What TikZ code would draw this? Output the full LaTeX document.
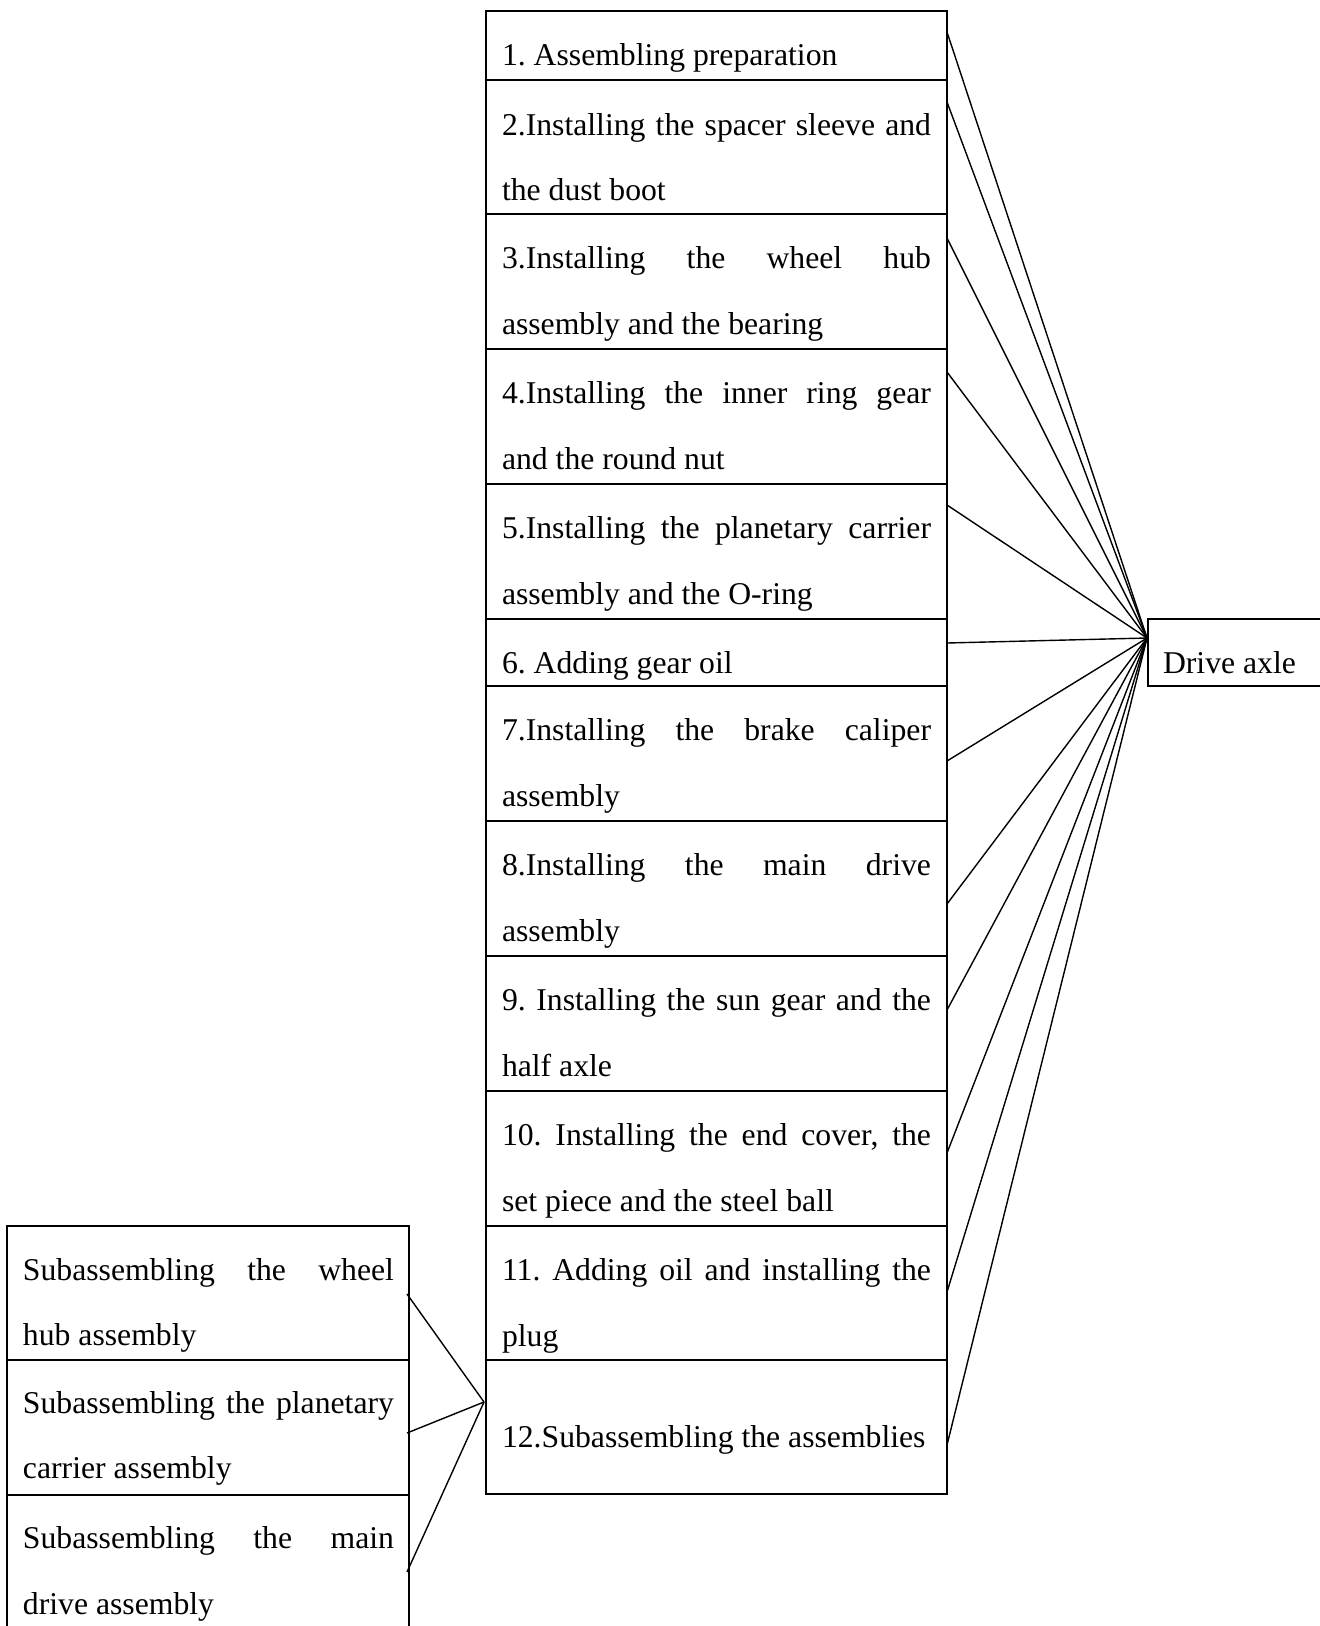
\documentclass[tikz,border=0pt]{standalone}
\usepackage{fontspec}
\setmainfont{Liberation Serif}
\newcommand{\jline}[1]{\makebox[429pt][s]{#1}}
\newcommand{\jlineL}[1]{\makebox[371pt][s]{#1}}
\begin{document}
\frenchspacing
\begin{tikzpicture}[x=1pt,y=-1pt,
  box/.style={draw, line width=2pt, rectangle, inner sep=0pt, outer sep=0pt, anchor=north west},
  txt/.style={inner sep=0pt, outer sep=0pt, anchor=base west, font=\fontsize{31.7}{38}\selectfont},
  link/.style={line width=1.4pt}]
\useasboundingbox (0,0) rectangle (1320,1626);

% main column rows
\node[box, minimum width=461pt, minimum height=69pt]  (r1)  at (486,11)   {};
\node[box, minimum width=461pt, minimum height=134pt] (r2)  at (486,80)   {};
\node[box, minimum width=461pt, minimum height=135pt] (r3)  at (486,214)  {};
\node[box, minimum width=461pt, minimum height=135pt] (r4)  at (486,349)  {};
\node[box, minimum width=461pt, minimum height=135pt] (r5)  at (486,484)  {};
\node[box, minimum width=461pt, minimum height=67pt]  (r6)  at (486,619)  {};
\node[box, minimum width=461pt, minimum height=135pt] (r7)  at (486,686)  {};
\node[box, minimum width=461pt, minimum height=135pt] (r8)  at (486,821)  {};
\node[box, minimum width=461pt, minimum height=135pt] (r9)  at (486,956)  {};
\node[box, minimum width=461pt, minimum height=135pt] (r10) at (486,1091) {};
\node[box, minimum width=461pt, minimum height=134pt] (r11) at (486,1226) {};
\node[box, minimum width=461pt, minimum height=134pt] (r12) at (486,1360) {};

% texts of main column
\node[txt] (t1)  at (502,65)    {1. Assembling preparation};
\node[txt] (t2a) at (502,135.5) {\jline{2.Installing the spacer sleeve and}};
\node[txt] (t2b) at (502,200.5) {the dust boot};
\node[txt] (t3a) at (502,268.5) {\jline{3.Installing the wheel hub}};
\node[txt] (t3b) at (502,334.5) {assembly and the bearing};
\node[txt] (t4a) at (502,403.5) {\jline{4.Installing the inner ring gear}};
\node[txt] (t4b) at (502,469.5) {and the round nut};
\node[txt] (t5a) at (502,538.5) {\jline{5.Installing the planetary carrier}};
\node[txt] (t5b) at (502,604.5) {assembly and the O-ring};
\node[txt] (t6)  at (502,673)   {6. Adding gear oil};
\node[txt] (t7a) at (502,740.5) {\jline{7.Installing the brake caliper}};
\node[txt] (t7b) at (502,806)   {assembly};
\node[txt] (t8a) at (502,875.5) {\jline{8.Installing the main drive}};
\node[txt] (t8b) at (502,941)   {assembly};
\node[txt] (t9a) at (502,1010.5) {\jline{9. Installing the sun gear and the}};
\node[txt] (t9b) at (502,1076)  {half axle};
\node[txt] (t10a) at (502,1145.5) {\jline{10. Installing the end cover, the}};
\node[txt] (t10b) at (502,1211) {set piece and the steel ball};
\node[txt] (t11a) at (502,1280.5) {\jline{11. Adding oil and installing the}};
\node[txt] (t11b) at (502,1346) {plug};
\node[txt] (t12) at (502,1447)  {12.Subassembling the assemblies};

% Drive axle
\node[box, minimum width=190pt, minimum height=67pt] (drive) at (1148,619) {};
\node[txt] (tdrive) at (1163,673) {Drive axle};

% left sub-assembly boxes
\node[box, minimum width=402pt, minimum height=134pt] (l1) at (7,1226) {};
\node[box, minimum width=402pt, minimum height=135pt] (l2) at (7,1360) {};
\node[box, minimum width=402pt, minimum height=150pt] (l3) at (7,1495) {};
\node[txt] (s1a) at (23,1280) {\jlineL{Subassembling the wheel}};
\node[txt] (s1b) at (23,1345) {hub assembly};
\node[txt] (s2a) at (23,1413) {\jlineL{Subassembling the planetary}};
\node[txt] (s2b) at (23,1478) {carrier assembly};
\node[txt] (s3a) at (23,1548) {\jlineL{Subassembling the main}};
\node[txt] (s3b) at (23,1614) {drive assembly};

% connector points
\coordinate (hub) at (1147,638);
\coordinate (c1)  at (947,32);
\coordinate (c2)  at (947,102);
\coordinate (c3)  at (947,238);
\coordinate (c4)  at (947,372);
\coordinate (c5)  at (947,505);
\coordinate (c6)  at (947,643);
\coordinate (c7)  at (947,761);
\coordinate (c8)  at (947,904);
\coordinate (c9)  at (947,1010);
\coordinate (c10) at (947,1153);
\coordinate (c11) at (947,1292);
\coordinate (c12) at (947,1445);

\foreach \i in {1,...,12} \draw[link] (c\i) -- (hub);

\coordinate (sub) at (484,1402);
\coordinate (d1) at (407,1294);
\coordinate (d2) at (407,1433);
\coordinate (d3) at (407,1572);
\foreach \i in {1,2,3} \draw[link] (d\i) -- (sub);
\end{tikzpicture}
\end{document}
